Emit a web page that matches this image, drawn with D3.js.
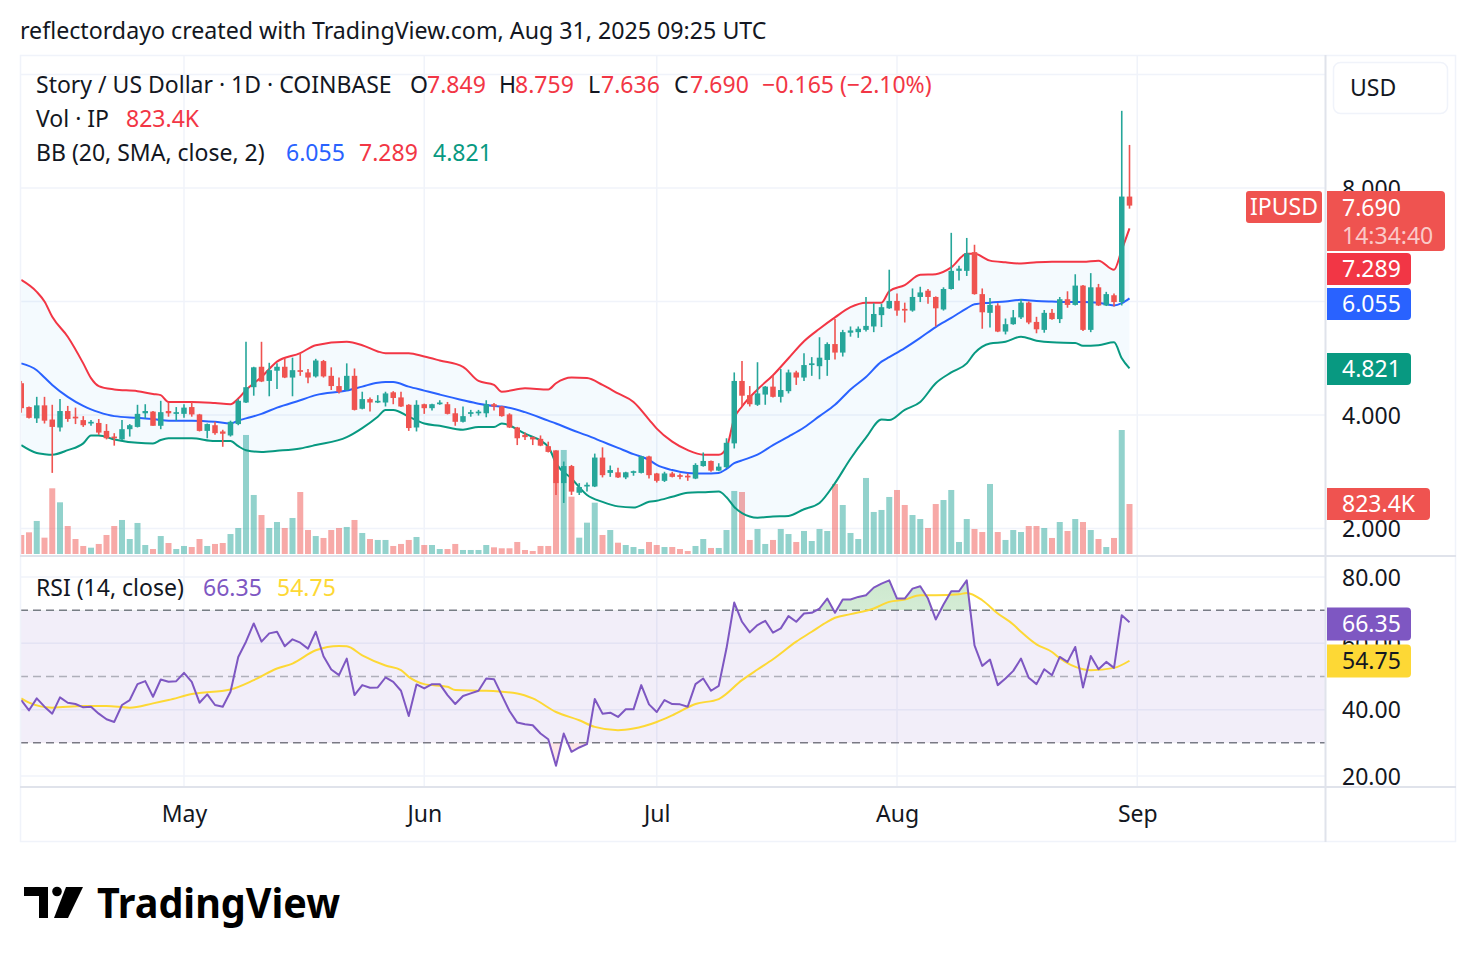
<!DOCTYPE html>
<html>
<head>
<meta charset="utf-8">
<script src="https://cdn.jsdelivr.net/npm/d3@7"></script>
<style>
  body { margin: 0; background: #fff; }
  svg text { font-family: "Noto Sans", Roboto, sans-serif; }
</style>
</head>
<body>
<svg id="chart" width="1476" height="962"></svg>
<script>
// IP / USD daily, Apr 10 - Aug 31 2025
const startDay = new Date(Date.UTC(2025, 3, 10));
const endDay = new Date(Date.UTC(2025, 8, 1));
const dates = d3.utcDay.range(startDay, endDay);

const opens = [4.56,4.14,3.94,4.17,3.92,3.78,4.07,3.97,3.91,3.85,3.86,3.72,3.62,3.57,3.75,3.79,4.03,4.06,3.81,4.07,4.02,
  4.02,4.14,4.01,3.72,3.82,3.71,3.64,3.84,4.22,4.49,4.85,4.60,4.78,4.85,4.66,4.79,4.75,4.68,4.95,4.69,4.51,4.44,4.69,4.11,4.28,4.22,4.22,4.40,4.31,4.18,3.78,
  4.19,4.12,4.19,4.19,4.03,3.88,4.02,4.03,4.03,4.19,4.15,4.01,3.78,3.65,3.61,3.58,3.45,3.37,2.80,3.10,2.63,2.74,2.74,3.25,2.98,2.99,2.90,2.98,2.98,3.27,
  2.97,2.84,2.97,2.94,2.93,2.88,3.10,3.19,3.02,3.08,3.50,4.60,4.35,4.18,4.36,4.50,4.32,4.42,4.75,4.66,4.88,4.86,4.97,5.25,5.10,5.45,5.46,5.50,5.56,5.76,5.88,
  6.01,5.87,5.84,6.08,6.19,6.08,5.86,6.22,6.54,6.54,6.87,6.13,5.80,5.93,5.47,5.60,5.72,5.98,5.64,5.50,5.80,5.69,6.04,5.94,6.28,5.50,6.25,5.93,6.11,5.99,7.849];
const highs = [4.60,4.15,4.32,4.32,4.18,4.28,4.16,4.13,3.98,3.91,3.93,3.84,3.68,3.91,3.84,4.18,4.19,4.07,4.25,4.22,4.14,
  4.19,4.23,4.02,3.85,3.88,3.74,3.90,4.28,5.29,4.85,5.29,4.92,4.91,5.00,5.01,5.09,4.81,4.99,4.97,4.84,4.66,4.91,4.82,4.41,4.31,4.35,4.41,4.42,4.41,4.19,4.26,
  4.20,4.20,4.26,4.23,4.12,4.15,4.09,4.09,4.26,4.21,4.16,4.03,3.79,3.69,3.62,3.64,3.53,3.38,3.18,3.12,2.80,2.81,3.32,3.43,3.11,3.07,3.00,3.02,3.28,3.28,
  2.98,3.00,3.00,2.97,2.97,3.15,3.34,3.20,3.15,3.59,4.75,4.95,4.51,4.93,4.51,4.69,4.81,4.80,4.78,5.09,5.02,5.37,5.28,5.69,5.50,5.56,5.56,6.08,5.97,5.96,6.56,
  6.14,5.98,6.23,6.26,6.22,6.09,6.25,7.21,6.63,7.12,7.00,6.23,6.06,5.97,5.70,5.85,6.04,6.00,5.73,5.85,5.87,6.08,6.18,6.48,6.29,6.50,6.31,6.17,6.14,9.36,8.759];
const lows = [4.04,3.94,3.86,3.85,2.98,3.71,3.88,3.84,3.79,3.81,3.65,3.57,3.46,3.56,3.62,3.78,3.94,3.81,3.75,3.97,3.90,
  3.95,3.97,3.71,3.59,3.65,3.44,3.62,3.82,4.21,4.34,4.58,4.33,4.46,4.65,4.33,4.69,4.56,4.66,4.66,4.44,4.38,4.43,4.08,4.10,4.06,4.21,4.15,4.19,4.14,3.72,3.71,
  4.02,4.08,4.18,4.01,3.81,3.87,3.97,3.99,3.96,4.08,3.97,3.77,3.47,3.56,3.47,3.45,3.34,2.59,2.45,2.59,2.59,2.65,2.73,2.90,2.91,2.89,2.87,2.93,2.97,2.88,
  2.81,2.82,2.90,2.87,2.84,2.87,3.09,3.00,3.01,3.06,3.41,4.15,4.15,4.16,4.18,4.31,4.22,4.38,4.53,4.60,4.69,4.63,4.69,4.98,5.03,5.38,5.36,5.47,5.46,5.55,5.87,
  5.75,5.63,5.82,5.99,5.96,5.56,5.84,6.21,6.37,6.45,6.12,5.52,5.54,5.46,5.42,5.59,5.69,5.60,5.44,5.45,5.68,5.62,5.89,5.93,5.48,5.46,5.92,5.92,5.91,5.93,7.636];
const closes = [4.12,3.95,4.17,3.90,3.79,4.07,3.93,3.94,3.82,3.88,3.69,3.59,3.59,3.75,3.82,4.02,4.07,3.81,4.05,4.03,4.05,
  4.13,4.01,3.72,3.84,3.68,3.67,3.88,4.25,4.49,4.84,4.59,4.79,4.85,4.66,4.79,4.76,4.66,4.96,4.68,4.51,4.41,4.69,4.09,4.28,4.22,4.25,4.38,4.30,4.15,3.77,4.18,
  4.12,4.19,4.22,4.02,3.88,3.98,4.05,4.06,4.19,4.15,3.98,3.78,3.59,3.61,3.57,3.46,3.35,2.80,3.10,2.65,2.73,2.77,3.25,2.94,3.03,2.90,2.99,3.01,3.27,2.94,
  2.84,2.97,2.91,2.91,2.90,3.12,3.19,3.02,3.09,3.51,4.60,4.34,4.19,4.38,4.50,4.32,4.44,4.75,4.66,4.88,4.91,5.01,5.25,5.10,5.46,5.49,5.52,5.57,5.78,5.90,6.01,
  5.84,5.84,6.08,6.16,6.08,5.88,6.22,6.54,6.58,6.85,6.13,5.81,5.94,5.47,5.60,5.72,5.98,5.63,5.51,5.80,5.69,6.04,5.94,6.28,5.50,6.25,5.93,6.13,5.99,7.849,7.690];
// volume in thousands
const volumes = [313,357,544,269,1082,851,461,247,132,104,165,313,461,560,247,511,148,82,296,181,82,
  132,115,247,132,165,181,329,428,1960,972,642,428,527,428,593,1021,395,296,264,395,428,445,560,346,247,231,231,132,165,231,280,
  148,148,82,82,165,66,66,66,148,110,94,94,198,66,49,132,132,1713,1713,944,269,516,845,313,395,186,148,115,82,198,
  148,115,115,82,49,132,247,99,99,395,1038,1021,231,412,165,231,412,329,198,379,214,412,379,1153,807,346,247,1252,692,725,939,
  1054,807,642,576,428,823,889,1054,198,576,412,362,1153,362,231,395,362,461,461,428,264,527,379,576,527,395,247,115,264,2042,823.4];

// Bollinger Bands (20, SMA, close, 2), sampled by day index
const bbDays = [0,2,3,4,6,8,9,10,12,15,17,18,19,22,25,27,28,29,31,33,36,38,42,44,46,47,48,50,52,54,57,59,61,62,65,68,69,71,73,75,
  77,79,81,82,84,86,88,90,91,92,93,95,97,99,101,103,105,107,109,111,112,114,116,118,120,122,123,125,127,129,131,133,136,137,139,141,142,143];
const bbUpper = [6.38,6.17,6.00,5.73,5.38,4.91,4.65,4.51,4.45,4.42,4.37,4.35,4.23,4.23,4.21,4.19,4.29,4.44,4.67,4.94,5.09,5.23,5.29,5.23,5.12,5.09,5.09,5.09,5.03,4.96,
  4.85,4.60,4.53,4.41,4.47,4.45,4.56,4.66,4.65,4.53,4.38,4.23,3.92,3.76,3.53,3.38,3.30,3.30,3.42,3.94,4.15,4.45,4.70,5.00,5.30,5.52,5.72,5.90,5.98,5.98,
  6.18,6.29,6.47,6.48,6.60,6.84,6.84,6.72,6.69,6.67,6.69,6.70,6.70,6.70,6.72,6.56,6.91,7.289];
const bbMiddle = [4.91,4.79,4.66,4.53,4.32,4.16,4.10,4.05,3.98,3.95,3.93,3.91,3.90,3.90,3.88,3.85,3.90,3.94,4.02,4.13,4.26,4.35,4.43,4.50,4.57,4.58,4.58,4.50,4.43,4.36,
  4.26,4.20,4.16,4.15,4.05,3.90,3.85,3.74,3.64,3.53,3.42,3.31,3.21,3.12,3.03,2.98,2.97,2.98,3.05,3.15,3.20,3.30,3.47,3.62,3.78,3.98,4.18,4.45,4.67,4.94,
  5.02,5.18,5.36,5.55,5.71,5.88,5.95,5.98,6.00,6.03,6.01,6.00,5.99,5.99,5.98,5.93,5.97,6.055];
const bbLower = [3.47,3.33,3.31,3.30,3.38,3.50,3.64,3.64,3.57,3.51,3.50,3.56,3.59,3.59,3.54,3.54,3.45,3.38,3.35,3.37,3.41,3.47,3.61,3.77,3.97,4.09,4.09,3.97,3.85,3.81,
  3.74,3.79,3.79,3.85,3.67,3.44,3.15,2.88,2.59,2.47,2.39,2.37,2.47,2.49,2.56,2.63,2.64,2.65,2.55,2.38,2.27,2.19,2.21,2.22,2.34,2.45,2.80,3.23,3.60,3.92,
  3.91,4.09,4.23,4.56,4.75,4.91,5.09,5.26,5.29,5.38,5.31,5.28,5.27,5.22,5.23,5.28,5.00,4.821];

// RSI (14, close), one value per day
const rsiValues = [42.9,39.8,43.4,40.9,38.8,43.7,42.1,41.7,40.7,40.9,38.8,37.1,36.3,41.4,42.9,47.7,48.6,43.9,49.1,48.4,48.6,
  51.1,48.4,42.1,44.6,41.4,40.9,45.4,55.9,60.5,66.0,60.5,63.0,63.5,59.1,61.2,60.2,58.4,63.5,56.1,52.1,50.4,55.4,44.4,47.4,46.6,46.7,49.7,48.4,45.7,38.1,47.6,
  46.4,47.7,47.7,44.4,41.7,44.1,44.9,45.7,49.4,49.2,44.4,39.6,36.1,35.6,35.3,32.8,31.1,23.1,32.8,27.3,28.6,29.6,43.2,38.8,39.1,37.8,40.1,40.1,47.4,41.6,
  39.3,42.9,41.7,41.6,40.9,47.7,49.4,45.7,47.2,58.5,72.3,66.5,63.3,65.5,66.8,63.2,64.5,68.2,66.5,69.0,69.2,70.5,73.5,69.2,73.2,73.2,74.0,74.5,76.8,78.0,79.0,
  73.5,73.5,76.5,77.2,73.5,67.2,71.7,75.7,75.7,79.0,59.4,53.2,55.1,47.4,49.4,51.7,55.4,49.6,47.7,52.2,50.4,55.9,54.4,58.9,46.7,56.2,52.2,54.4,52.6,68.5,66.35];
// RSI-based MA, sampled by day index
const rsiMaDays = [0,1,4,8,11,14,17,19,22,27,30,33,35,38,41,42,44,47,49,50,52,55,56,60,64,66,69,72,74,77,79,82,84,87,90,93,95,97,
  100,102,104,105,107,110,112,114,116,118,121,122,124,126,128,129,131,133,134,137,138,141,143];
const rsiMa = [43.4,42.1,40.6,41.1,41.1,40.6,41.9,42.9,44.7,46.1,48.9,52.4,53.9,57.9,59.2,59.1,56.4,53.3,51.9,49.9,47.7,46.9,45.9,45.7,44.9,43.4,39.3,36.8,34.8,33.8,34.3,36.3,38.3,41.7,43.2,48.9,52.1,55.2,
  60.5,63.5,66.5,67.7,68.8,70.5,72.5,73.2,74.5,74.5,74.8,75.2,73.0,69.0,65.7,63.5,59.7,57.4,55.5,52.2,51.9,52.6,54.75];

const priceGrid = [2, 4, 6, 8, 10];
const priceLabels = [2, 4, 8];   // 6 and 10 sit under the tags / USD box
const rsiTicks = [20, 40, 60, 80];

const up = '#26a69a', down = '#ef5350';
const ink = '#131722';
const gridColor = '#f0f3fa', lineColor = '#e0e3eb';
const fs = 23;

const svg = d3.select('#chart');

// scales
const x = d3.scaleUtc().domain([startDay, endDay]).range([21.25, 1137.25]);
const yPrice = d3.scaleLinear().domain([2, 8]).range([528.5, 188]);
const yVol = d3.scaleLinear().domain([0, 823.4]).range([554, 504]);
const yRsi = d3.scaleLinear().domain([20, 80]).range([776, 577]);

const defs = svg.append('defs');
defs.append('clipPath').attr('id', 'pricePane')
  .append('rect').attr('x', 20).attr('y', 56).attr('width', 1305).attr('height', 499);
defs.append('clipPath').attr('id', 'rsiPane')
  .append('rect').attr('x', 20).attr('y', 557).attr('width', 1305).attr('height', 230);
defs.append('clipPath').attr('id', 'overBought')
  .append('rect').attr('x', 20).attr('y', 557).attr('width', 1305).attr('height', yRsi(70) - 557);
defs.append('clipPath').attr('id', 'overSold')
  .append('rect').attr('x', 20).attr('y', yRsi(30)).attr('width', 1305).attr('height', 787 - yRsi(30));
const obGrad = defs.append('linearGradient').attr('id', 'obGrad')
  .attr('x1', 0).attr('y1', 0).attr('x2', 0).attr('y2', 1);
obGrad.append('stop').attr('offset', '0%').attr('stop-color', 'rgba(76,175,80,0.28)');
obGrad.append('stop').attr('offset', '100%').attr('stop-color', 'rgba(76,175,80,0.03)');

// title
svg.append('text').attr('x', 20).attr('y', 39)
  .attr('font-size', 23.2).attr('fill', ink)
  .text('reflectordayo created with TradingView.com, Aug 31, 2025 09:25 UTC');

// grid
const monthTicks = x.ticks(d3.utcMonth);
const grid = svg.append('g');
grid.selectAll('line.v').data(monthTicks).enter().append('line')
  .attr('x1', d => x(d)).attr('x2', d => x(d))
  .attr('y1', 56).attr('y2', 787)
  .attr('stroke', gridColor).attr('stroke-width', 1.5);
grid.selectAll('line.p').data(priceGrid).enter().append('line')
  .attr('x1', 20).attr('x2', 1325)
  .attr('y1', d => yPrice(d)).attr('y2', d => yPrice(d))
  .attr('stroke', gridColor).attr('stroke-width', 1.5);
grid.selectAll('line.r').data(rsiTicks).enter().append('line')
  .attr('x1', 20).attr('x2', 1325)
  .attr('y1', d => yRsi(d)).attr('y2', d => yRsi(d))
  .attr('stroke', gridColor).attr('stroke-width', 1.5);

// price pane
const price = svg.append('g').attr('clip-path', 'url(#pricePane)');

price.selectAll('rect.vol').data(volumes).enter().append('rect')
  .attr('x', (d, i) => x(dates[i]) - 3)
  .attr('y', d => yVol(d))
  .attr('width', 6)
  .attr('height', d => yVol(0) - yVol(d))
  .attr('fill', (d, i) => closes[i] >= opens[i] ? 'rgba(38,166,154,0.5)' : 'rgba(239,83,80,0.5)');

const bb = bbDays.map((d, i) => ({ date: dates[d], u: bbUpper[i], m: bbMiddle[i], l: bbLower[i] }));
price.append('path').datum(bb)
  .attr('fill', 'rgba(33,150,243,0.05)')
  .attr('d', d3.area().curve(d3.curveMonotoneX)
    .x(d => x(d.date)).y0(d => yPrice(d.l)).y1(d => yPrice(d.u)));
[['u', '#f23645'], ['m', '#2962ff'], ['l', '#089981']].forEach(function (band) {
  price.append('path').datum(bb)
    .attr('fill', 'none')
    .attr('stroke', band[1])
    .attr('stroke-width', 2)
    .attr('d', d3.line().curve(d3.curveMonotoneX)
      .x(d => x(d.date)).y(d => yPrice(d[band[0]])));
});

const candles = price.selectAll('g.candle').data(dates).enter().append('g');
candles.append('line')
  .attr('x1', d => x(d)).attr('x2', d => x(d))
  .attr('y1', (d, i) => yPrice(highs[i]))
  .attr('y2', (d, i) => yPrice(lows[i]))
  .attr('stroke', (d, i) => closes[i] >= opens[i] ? up : down)
  .attr('stroke-width', 1.6);
candles.append('rect')
  .attr('x', d => x(d) - 2.75)
  .attr('width', 5.5)
  .attr('y', (d, i) => yPrice(Math.max(opens[i], closes[i])))
  .attr('height', (d, i) => Math.max(1.5, Math.abs(yPrice(opens[i]) - yPrice(closes[i]))))
  .attr('fill', (d, i) => closes[i] >= opens[i] ? up : down);

// RSI pane
const rsi = svg.append('g').attr('clip-path', 'url(#rsiPane)');
rsi.append('rect')
  .attr('x', 20).attr('width', 1305)
  .attr('y', yRsi(70)).attr('height', yRsi(30) - yRsi(70))
  .attr('fill', 'rgba(126,87,194,0.1)');
[[70, '#787b86'], [50, 'rgba(120,123,134,0.55)'], [30, '#787b86']].forEach(function (lvl) {
  rsi.append('line')
    .attr('x1', 20).attr('x2', 1325)
    .attr('y1', yRsi(lvl[0])).attr('y2', yRsi(lvl[0]))
    .attr('stroke', lvl[1]).attr('stroke-width', 1.5)
    .attr('stroke-dasharray', '8,5');
});

rsi.append('path').datum(rsiValues)
  .attr('clip-path', 'url(#overBought)')
  .attr('fill', 'url(#obGrad)')
  .attr('d', d3.area().x((d, i) => x(dates[i])).y0(yRsi(70)).y1(d => yRsi(d)));
rsi.append('path').datum(rsiValues)
  .attr('clip-path', 'url(#overSold)')
  .attr('fill', 'rgba(242,54,69,0.12)')
  .attr('d', d3.area().x((d, i) => x(dates[i])).y0(yRsi(30)).y1(d => yRsi(d)));

rsi.append('path').datum(rsiMaDays)
  .attr('fill', 'none').attr('stroke', '#fdd835').attr('stroke-width', 2)
  .attr('d', d3.line().curve(d3.curveMonotoneX)
    .x(d => x(dates[d])).y((d, i) => yRsi(rsiMa[i])));
rsi.append('path').datum(rsiValues)
  .attr('fill', 'none').attr('stroke', '#7e57c2').attr('stroke-width', 2)
  .attr('stroke-linejoin', 'round')
  .attr('d', d3.line().x((d, i) => x(dates[i])).y(d => yRsi(d)));

// frame and separators
svg.append('rect').attr('x', 20.5).attr('y', 55.5).attr('width', 1435).attr('height', 786)
  .attr('fill', 'none').attr('stroke', gridColor).attr('stroke-width', 1.5);
svg.append('line').attr('x1', 20).attr('x2', 1456).attr('y1', 556).attr('y2', 556)
  .attr('stroke', lineColor).attr('stroke-width', 2);
svg.append('line').attr('x1', 20).attr('x2', 1456).attr('y1', 787).attr('y2', 787)
  .attr('stroke', lineColor).attr('stroke-width', 2);
svg.append('line').attr('x1', 1325.5).attr('x2', 1325.5).attr('y1', 55).attr('y2', 842)
  .attr('stroke', lineColor).attr('stroke-width', 2);

// axes
const timeAxis = svg.append('g').attr('transform', 'translate(0,803)')
  .call(d3.axisBottom(x).ticks(d3.utcMonth).tickFormat(d3.utcFormat('%b')).tickSize(0));
timeAxis.select('.domain').remove();
timeAxis.selectAll('text').attr('font-size', fs).attr('fill', ink)
  .attr('font-family', '"Noto Sans", sans-serif');

const priceAxis = svg.append('g').attr('transform', 'translate(1339,0)')
  .call(d3.axisRight(yPrice).tickValues(priceLabels).tickFormat(d3.format('.3f')).tickSize(0));
priceAxis.select('.domain').remove();
priceAxis.selectAll('text').attr('font-size', fs).attr('fill', ink)
  .attr('font-family', '"Noto Sans", sans-serif').attr('dy', '0.35em');

const rsiAxis = svg.append('g').attr('transform', 'translate(1339,0)')
  .call(d3.axisRight(yRsi).tickValues(rsiTicks).tickFormat(d3.format('.2f')).tickSize(0));
rsiAxis.select('.domain').remove();
rsiAxis.selectAll('text').attr('font-size', fs).attr('fill', ink)
  .attr('font-family', '"Noto Sans", sans-serif').attr('dy', '0.35em');

// USD box
svg.append('rect').attr('x', 1333.5).attr('y', 62.5).attr('width', 114).attr('height', 51).attr('rx', 7)
  .attr('fill', '#fff').attr('stroke', gridColor).attr('stroke-width', 1.5);
svg.append('text').attr('x', 1350).attr('y', 88).attr('dy', '0.36em')
  .attr('font-size', fs).attr('fill', ink).text('USD');

// last value labels on the price scale
function tag(yCenter, h, w, color, label, textColor) {
  svg.append('path')
    .attr('d', 'M1327,' + (yCenter - h / 2) + 'h' + (w - 4) + 'a4,4 0 0 1 4,4v' + (h - 8) +
      'a4,4 0 0 1 -4,4h' + (-(w - 4)) + 'z')
    .attr('fill', color);
  svg.append('text').attr('x', 1342).attr('y', yCenter).attr('dy', '0.36em')
    .attr('font-size', fs).attr('fill', textColor || '#fff').text(label);
}
const last = closes.length - 1;
svg.append('rect').attr('x', 1246).attr('y', 191).attr('width', 76).attr('height', 32).attr('rx', 3)
  .attr('fill', down);
svg.append('text').attr('x', 1284).attr('y', 207).attr('dy', '0.36em').attr('text-anchor', 'middle')
  .attr('font-size', fs).attr('fill', '#fff').text('IPUSD');
svg.append('path')
  .attr('d', 'M1327,191h114a4,4 0 0 1 4,4v52a4,4 0 0 1 -4,4h-114z').attr('fill', down);
svg.append('text').attr('x', 1342).attr('y', 208).attr('dy', '0.36em')
  .attr('font-size', fs).attr('fill', '#fff').text(d3.format('.3f')(closes[last]));
svg.append('text').attr('x', 1342).attr('y', 236).attr('dy', '0.36em')
  .attr('font-size', fs).attr('fill', 'rgba(255,255,255,0.7)').text('14:34:40');
tag(269, 32, 84, '#f23645', d3.format('.3f')(bbUpper[bbUpper.length - 1]));
tag(304, 32, 84, '#2962ff', d3.format('.3f')(bbMiddle[bbMiddle.length - 1]));
tag(369, 32, 84, '#089981', d3.format('.3f')(bbLower[bbLower.length - 1]));
tag(504, 32, 103, down, volumes[last] + 'K');
tag(624, 33, 84, '#7e57c2', d3.format('.2f')(rsiValues[last]));
tag(661, 33, 84, '#fdd835', d3.format('.2f')(rsiMa[rsiMa.length - 1]), ink);

// legends
function legend(y, parts) {
  const t = svg.append('text').attr('y', y).attr('font-size', fs);
  parts.forEach(function (p) {
    t.append('tspan').attr('x', p[0]).attr('fill', p[2] || ink).text(p[1]);
  });
}
const red = '#f23645';
legend(93, [[36, 'Story / US Dollar · 1D · COINBASE'],
  [410, 'O'], [427, '7.849', red], [499, 'H'], [515, '8.759', red],
  [588, 'L'], [601, '7.636', red], [674, 'C'], [690, '7.690', red],
  [762, '\u22120.165 (\u22122.10%)', red]]);
legend(127, [[36, 'Vol · IP'], [126, '823.4K', red]]);
legend(161, [[36, 'BB (20, SMA, close, 2)'], [286, '6.055', '#2962ff'], [359, '7.289', red], [433, '4.821', '#089981']]);
legend(596, [[36, 'RSI (14, close)'], [203, '66.35', '#7e57c2'], [277, '54.75', '#fdd835']]);

// TradingView logo
const logo = svg.append('g').attr('fill', '#000');
logo.append('path').attr('d', 'M24,887H48V918H39V896H24Z');
logo.append('circle').attr('cx', 57).attr('cy', 891.5).attr('r', 4.8);
logo.append('path').attr('d', 'M66,887H83L68,918H54Z');
logo.append('text').attr('x', 97).attr('y', 918)
  .attr('font-family', 'Inter, Roboto, sans-serif')
  .attr('font-weight', 700).attr('font-size', 42)
  .attr('textLength', 243).attr('lengthAdjust', 'spacingAndGlyphs')
  .text('TradingView');
</script>
</body>
</html>
